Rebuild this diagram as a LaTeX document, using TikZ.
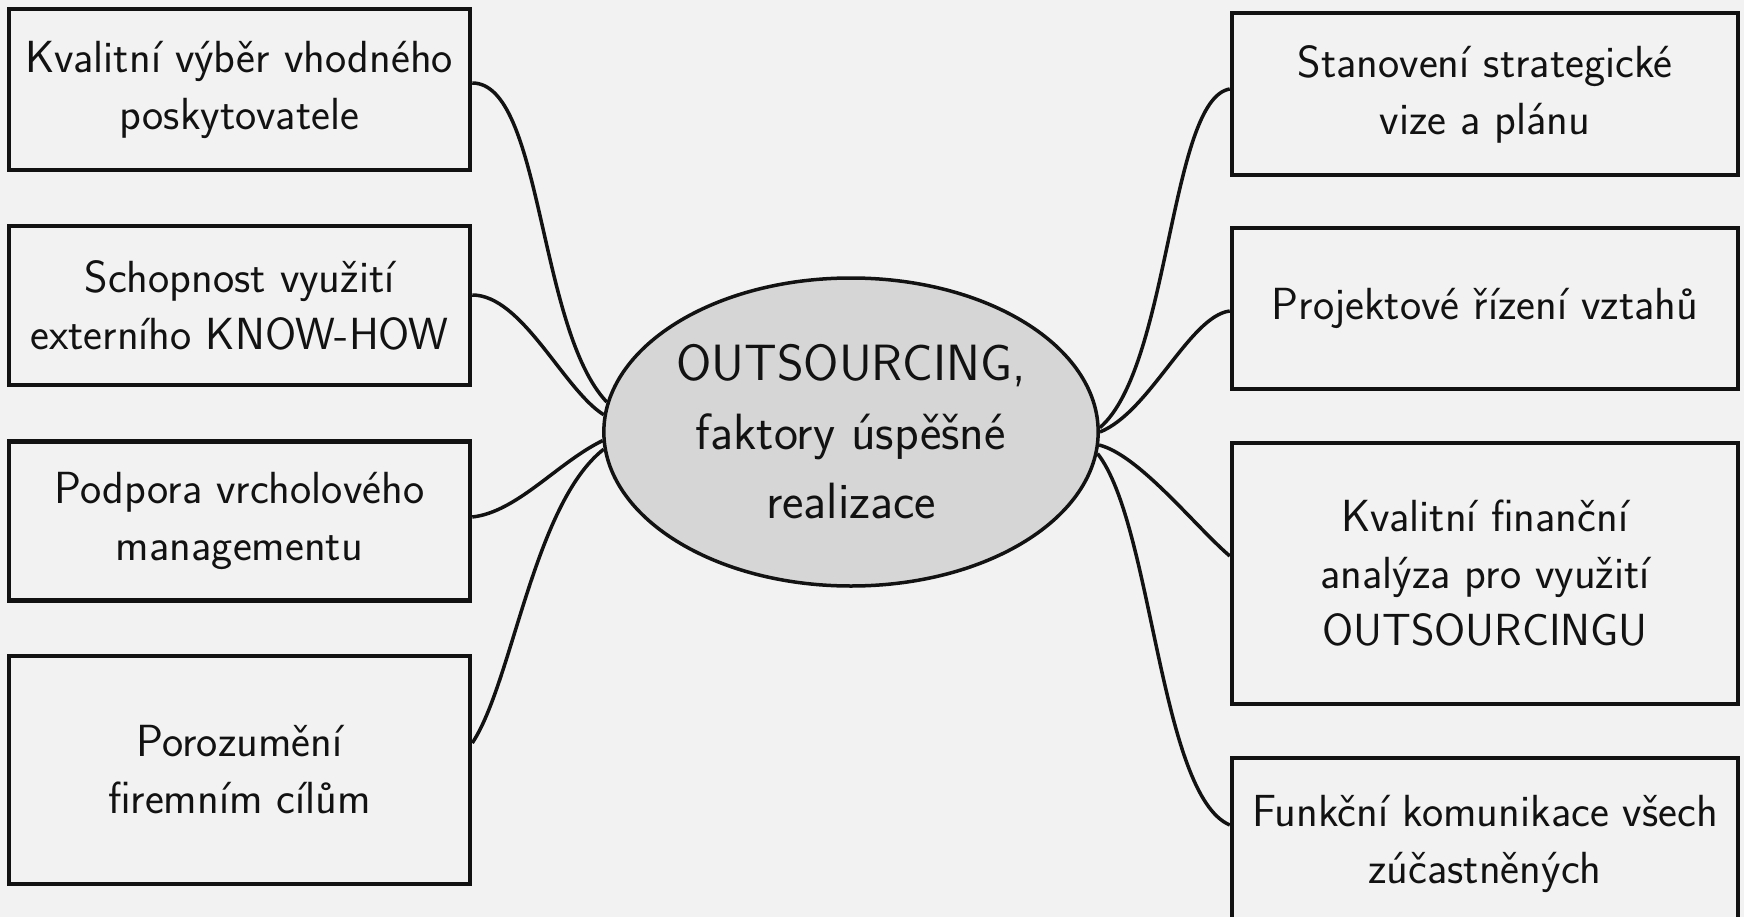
\documentclass[tikz,border=0pt]{standalone}
\usetikzlibrary{shapes.geometric}
\definecolor{bg}{RGB}{242,242,242}
\definecolor{ellfill}{RGB}{214,214,214}
\definecolor{ink}{RGB}{18,18,18}
\begin{document}
\begin{tikzpicture}[x=1pt,y=1pt,
  box/.style={draw=ink, line width=4.5pt, align=center, inner sep=0pt, text=ink,
    font=\sffamily\fontsize{45}{57}\selectfont},
  lbox/.style={box, minimum width=461pt},
  rbox/.style={box, minimum width=506pt},
  hub/.style={ellipse, draw=ink, fill=ellfill, line width=3.5pt, inner sep=0pt,
    minimum width=490pt, minimum height=308pt, align=center, text=ink,
    font=\sffamily\fontsize{51}{69}\selectfont},
  conn/.style={draw=ink, line width=3.5pt}]
\fill[bg] (0,0) rectangle (1744,-917);
\useasboundingbox (0,0) rectangle (1744,-917);

\node[lbox, minimum height=161pt] (L1) at (239.5,-89.5) {Kvalitní výběr vhodného\\poskytovatele};
\node[lbox, minimum height=159pt] (L2) at (239.5,-305.5) {Schopnost využití\\externího KNOW-HOW};
\node[lbox, minimum height=159pt] (L3) at (239.5,-521) {Podpora vrcholového\\managementu};
\node[lbox, minimum height=228pt] (L4) at (239.5,-770) {Porozumění\\firemním cílům};

\node[rbox, minimum height=162pt] (R1) at (1485,-94) {Stanovení strategické\\vize a plánu};
\node[rbox, minimum height=161pt] (R2) at (1485,-308.5) {Projektové řízení vztahů};
\node[rbox, minimum height=261pt] (R3) at (1485,-573.5) {Kvalitní finanční\\analýza pro využití\\OUTSOURCINGU};
\node[rbox, minimum height=172pt] (R4) at (1485,-844) {Funkční komunikace všech\\zúčastněných};

\node[hub] (E) at (851,-432) {OUTSOURCING,\\faktory úspěšné\\realizace};

\draw[conn] ([yshift=6.5pt]L1.east) .. controls +(70,0) and +(-69,73) .. (E.173);
\draw[conn] ([yshift=10.5pt]L2.east) .. controls +(50,0) and +(-40,25) .. (E.176);
\draw[conn] ([yshift=4pt]L3.east) .. controls +(45,5) and +(-45,-22) .. (E.182);
\draw[conn] ([yshift=27pt]L4.east) .. controls +(40,60) and +(-70,-55) .. (E.184);

\draw[conn] ([yshift=5pt]R1.west) .. controls +(-60,-10) and +(70,60) .. (E.1);
\draw[conn] ([yshift=-2.5pt]R2.west) .. controls +(-40,-5) and +(50,20) .. (E.0);
\draw[conn] ([yshift=17.5pt]R3.west) .. controls +(-35,30) and +(40,-10) .. (E.357);
\draw[conn] ([yshift=19pt]R4.west) .. controls +(-70,30) and +(55,-70) .. (E.355);
\end{tikzpicture}
\end{document}
